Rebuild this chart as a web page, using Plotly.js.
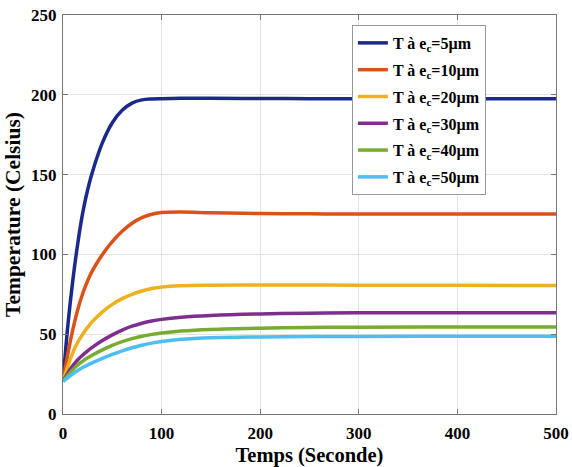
<!DOCTYPE html>
<html>
<head>
<meta charset="utf-8">
<script src="https://cdn.plot.ly/plotly-3.0.1.min.js"></script>
<style>html,body{margin:0;padding:0;background:#fff;}#chart{width:572px;height:467px;}</style>
</head>
<body>
<div id="chart"></div>
<script>
const time = [0,5,10,15,20,25,30,40,50,60,70,80,90,100,120,150,200,250,300,400,500];
const T5  = [20.4,56,84,107,126,140.5,152,170,182.5,190.3,194.8,196.8,197.4,197.6,197.8,197.8,197.7,197.6,197.5,197.5,197.5];
const T10 = [20.4,38,53,65.5,75.5,83.5,90,100,108,114.5,119.5,123,125.2,126.2,126.5,126.1,125.6,125.4,125.3,125.3,125.3];
const T20 = [20.4,30,38.5,45,50,54.3,58,64,68.7,72.3,75,77.1,78.6,79.6,80.4,80.7,80.8,80.8,80.7,80.6,80.5];
const T30 = [20.4,25.8,30.3,34,37,39.6,41.9,46,49.6,52.6,55,56.9,58.3,59.3,60.6,61.7,62.7,63.2,63.4,63.5,63.4];
const T40 = [20.4,24.3,27.8,30.7,33.1,35.2,37,40.2,43,45.3,47.2,48.7,49.9,50.8,52,53,53.8,54.2,54.4,54.5,54.5];
const T50 = [20.4,22.8,25.2,27.3,29.1,30.7,32.2,34.9,37.4,39.6,41.5,43.1,44.4,45.4,46.8,47.8,48.3,48.5,48.6,48.7,48.7];
const names = ['T à e<sub>c</sub>=5µm','T à e<sub>c</sub>=10µm','T à e<sub>c</sub>=20µm','T à e<sub>c</sub>=30µm','T à e<sub>c</sub>=40µm','T à e<sub>c</sub>=50µm'];
const series = [T5,T10,T20,T30,T40,T50];
const colors = ['#1a2a8c','#d95319','#edb120','#7e2f8e','#77ac30','#4dbeee'];
const xTicks = [0,100,200,300,400,500];
const yTicks = [0,50,100,150,200,250];

const traces = series.map((s,i)=>({
  x: time, y: s, name: names[i], legendgroup:'g'+i, type:'scatter', mode:'lines',
  line:{color:colors[i], width:3.5, shape:'spline', smoothing:1}
}));

const ff = '"Liberation Serif","Times New Roman",serif';
const layout = {
  width:572, height:467,
  margin:{l:63,r:16,t:15,b:53},
  paper_bgcolor:'#fff', plot_bgcolor:'#fff',
  font:{family:ff, color:'#000'},
  showlegend:true,
  legend:{x:0.586, y:0.975, xanchor:'left', yanchor:'top', bgcolor:'#fff', bordercolor:'#999', borderwidth:1,
    font:{family:ff, size:16, weight:'bold', color:'#000'}, itemwidth:30, tracegroupgap:3},
  xaxis:{range:[0,500], tickvals:xTicks, ticktext:xTicks.map(String), showgrid:true, gridcolor:'#e3e3e3',
    zeroline:false, showline:true, linecolor:'#777', linewidth:1, mirror:'ticks', ticks:'inside', ticklen:5, tickcolor:'#777',
    tickfont:{family:ff, size:17, weight:'bold', color:'#000'}, ticklabelstandoff:4,
    title:{text:'<b>Temps (Seconde)</b>', font:{family:ff, size:20.5, color:'#000'}, standoff:6}},
  yaxis:{range:[0,250], tickvals:yTicks, ticktext:yTicks.map(String), showgrid:true, gridcolor:'#e3e3e3',
    zeroline:false, showline:true, linecolor:'#777', linewidth:1, mirror:'ticks', ticks:'inside', ticklen:5, tickcolor:'#777',
    tickfont:{family:ff, size:17, weight:'bold', color:'#000'}, ticklabelstandoff:2,
    title:{text:'<b>Temperature (Celsius)</b>', font:{family:ff, size:21.5, color:'#000'}, standoff:4}}
};
Plotly.newPlot('chart', traces, layout, {displayModeBar:false, staticPlot:true});
</script>
</body>
</html>
